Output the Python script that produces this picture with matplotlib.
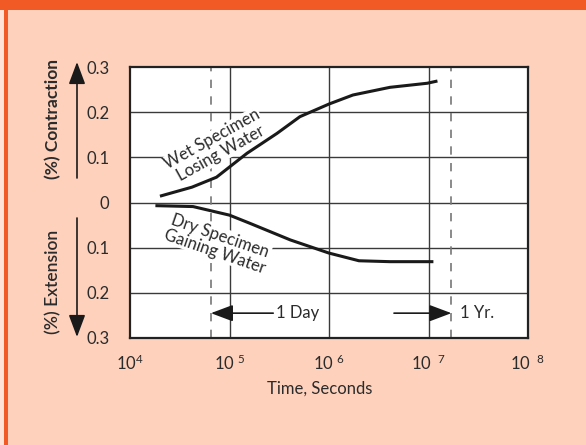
import matplotlib
matplotlib.use("Agg")
import matplotlib.pyplot as plt
from matplotlib.patches import Rectangle, FancyArrowPatch
import numpy as np

plt.rcParams['font.family'] = ['Lato', 'DejaVu Sans']
plt.rcParams['mathtext.default'] = 'regular'

# Data
wet_time = [2.0e4, 4.2e4, 7.4e4, 1.5e5, 3.0e5, 5.1e5, 1.0e6, 1.74e6, 4.1e6, 9.7e6, 1.23e7]
wet_value = [0.014, 0.034, 0.056, 0.109, 0.153, 0.19, 0.218, 0.238, 0.255, 0.264, 0.269]

dry_time = [1.8e4, 4.3e4, 1.0e5, 1.6e5, 4.1e5, 1.0e6, 2.0e6, 4.1e6, 1.12e7]
dry_value = [-0.007, -0.009, -0.028, -0.046, -0.083, -0.112, -0.129, -0.131, -0.131]

day_line = 6.5e4
year_line = 1.7e7

y_ticks = [-0.3, -0.2, -0.1, 0.0, 0.1, 0.2, 0.3]
y_tick_labels = ['0.3', '0.2', '0.1', '0', '0.1', '0.2', '0.3']
x_ticks = [1e4, 1e5, 1e6, 1e7, 1e8]
x_tick_labels = ['10$^4$', '10$^{\\ 5}$', '10$^{\\ 6}$', '10$^{\\ \\ 7}$', '10$^{\\ \\ 8}$']

W, H = 586, 445
fig = plt.figure(figsize=(W / 100, H / 100), dpi=100)
fig.patch.set_facecolor('#FDD1BC')

orange = '#F15A24'
fig.patches.append(Rectangle((0, 0), 4 / W, 1, transform=fig.transFigure,
                             facecolor='#FEE3D6', edgecolor='none', zorder=0))
fig.patches.append(Rectangle((4 / W, 0), 3.5 / W, 1, transform=fig.transFigure,
                             facecolor=orange, edgecolor='none', zorder=1))
fig.patches.append(Rectangle((0, 1 - 10 / H), 1, 10 / H, transform=fig.transFigure,
                             facecolor=orange, edgecolor='none', zorder=1))

ax_l, ax_r, ax_t, ax_b = 130, 528, 67, 338
ax = fig.add_axes([ax_l / W, 1 - ax_b / H, (ax_r - ax_l) / W, (ax_b - ax_t) / H])
ax.set_facecolor('white')
ax.set_xscale('log')
ax.set_xlim(1e4, 1e8)
ax.set_ylim(-0.3, 0.3)

FS = 12
ax.set_yticks(y_ticks)
ax.set_yticklabels(y_tick_labels)
ax.set_xticks(x_ticks)
ax.set_xticklabels(x_tick_labels)
ax.xaxis.set_minor_locator(matplotlib.ticker.NullLocator())
ax.tick_params(axis='both', length=0, labelsize=FS, colors='#2b2b2b')
ax.tick_params(axis='y', pad=15)
ax.tick_params(axis='x', pad=11)

for s in ax.spines.values():
    s.set_color('#222222')
    s.set_linewidth(1.6)

grid_col = '#3a3a3a'
for yv in [-0.2, -0.1, 0.0, 0.1, 0.2]:
    ax.axhline(yv, color=grid_col, lw=1.0, zorder=1)
for xv in [1e5, 1e6, 1e7]:
    ax.axvline(xv, color=grid_col, lw=1.0, zorder=1)

ax.axvline(day_line, color='#777777', lw=1.2, dashes=(5, 5), zorder=1.5)
ax.axvline(year_line, color='#777777', lw=1.2, dashes=(5, 5), zorder=1.5)

ax.plot(wet_time, wet_value, color='#1a1a1a', lw=2.2, zorder=4, solid_capstyle='butt')
ax.plot(dry_time, dry_value, color='#1a1a1a', lw=2.2, zorder=4, solid_capstyle='butt')

txt_kw = dict(ha='center', va='center', fontsize=FS, color='#2b2b2b',
              linespacing=1.05, zorder=3,
              bbox=dict(facecolor='white', edgecolor='none', pad=0.3))
ax.text(7.4e4, 0.124, 'Wet Specimen\nLosing Water', rotation=29, **txt_kw)
ax.text(7.6e4, -0.091, 'Dry Specimen\nGaining Water', rotation=-19, **txt_kw)

arrow_style = '-|>,head_length=0.8,head_width=0.3'
# 1 Day / 1 Yr. arrows
ax.annotate('', xy=(day_line, -0.245), xytext=(2.75e5, -0.245),
            arrowprops=dict(arrowstyle=arrow_style, mutation_scale=17,
                            color='#1a1a1a', lw=1.2, shrinkA=0, shrinkB=0), zorder=5)
ax.text(2.9e5, -0.245, '1 Day', ha='left', va='center', fontsize=FS, color='#2b2b2b')
ax.annotate('', xy=(year_line, -0.245), xytext=(4.5e6, -0.245),
            arrowprops=dict(arrowstyle=arrow_style, mutation_scale=17,
                            color='#1a1a1a', lw=1.2, shrinkA=0, shrinkB=0), zorder=5)
ax.text(2.05e7, -0.245, '1 Yr.', ha='left', va='center', fontsize=FS, color='#2b2b2b')

fig.text(320 / W, 1 - 389 / H, 'Time, Seconds', ha='center', va='center',
         fontsize=FS, color='#2b2b2b')

fig.text(53 / W, 1 - 119 / H, '(%) Contraction', rotation=90, ha='center', va='center',
         fontsize=12.5, fontweight='bold', color='#2b2b2b')
fig.text(53 / W, 1 - 282 / H, '(%) Extension', rotation=90, ha='center', va='center',
         fontsize=12.5, fontweight='semibold', color='#2b2b2b')

# vertical arrows beside axis titles
for y0, y1 in [(178, 62), (218, 337)]:
    fig.patches.append(FancyArrowPatch(
        (77 / W, 1 - y0 / H), (77 / W, 1 - y1 / H), transform=fig.transFigure,
        arrowstyle=arrow_style, mutation_scale=17, color='#1a1a1a', lw=1.2,
        shrinkA=0, shrinkB=0))

fig.savefig('out.png', dpi=100, facecolor=fig.get_facecolor())
